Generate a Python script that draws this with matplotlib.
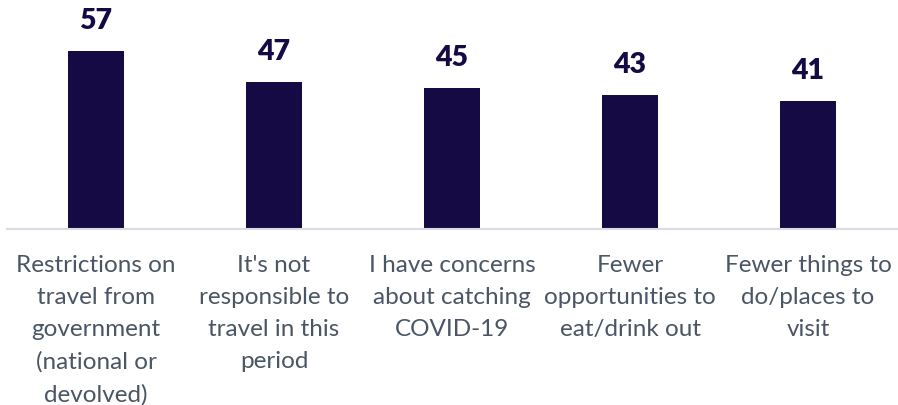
import matplotlib.pyplot as plt

# dados
categorias = [
    "Restrictions on\ntravel from\ngovernment\n(national or\ndevolved)",
    "It's not\nresponsible to\ntravel in this\nperiod",
    "I have concerns\nabout catching\nCOVID-19",
    "Fewer\nopportunities to\neat/drink out",
    "Fewer things to\ndo/places to\nvisit",
]
valores = [57, 47, 45, 43, 41]

cor_barra = "#160a44"
cor_texto = "#4a5565"

fig = plt.figure(figsize=(8.98, 4.06), dpi=100)
ax = fig.add_axes([7 / 898, 1 - 230 / 406, 890 / 898, 230 / 406])

x = list(range(len(valores)))
ax.bar(x, valores, width=0.315, color=cor_barra, zorder=2)

# valores acima das barras
for xi, v in zip(x, valores):
    ax.annotate(str(v), (xi, v), xytext=(0, 13), textcoords="offset points",
                ha="center", va="bottom", fontsize=20.5, fontweight="heavy",
                color=cor_barra, family="Lato")

ax.set_xlim(-0.5, 4.5)
ax.set_ylim(0, 73.6)
ax.set_yticks([])
ax.set_xticks(x)
ax.set_xticklabels(categorias, fontsize=17.5, color=cor_texto, family="Lato",
                   linespacing=1.65, va="top")
ax.tick_params(axis="x", length=0, pad=18)

for s in ["top", "right", "left"]:
    ax.spines[s].set_visible(False)
ax.spines["bottom"].set_color("#d9dde3")
ax.spines["bottom"].set_linewidth(1.5)

fig.savefig("out.png", dpi=100)
